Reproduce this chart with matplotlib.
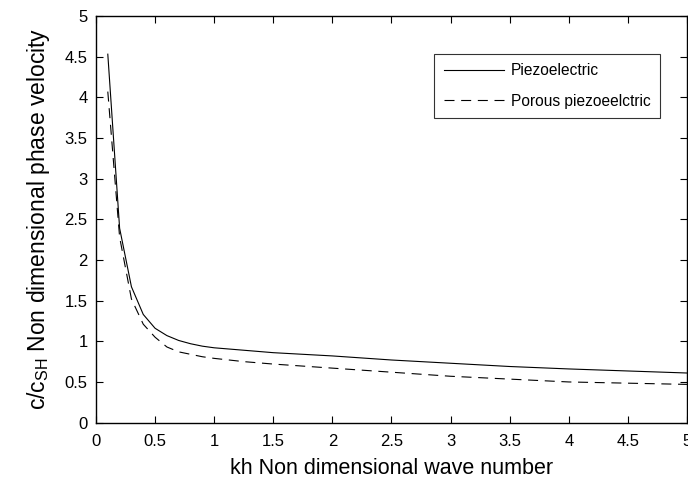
import matplotlib

matplotlib.use("Agg")
import matplotlib.pyplot as plt

plt.rcParams["font.family"] = ["Liberation Sans", "DejaVu Sans"]
plt.rcParams["mathtext.fontset"] = "custom"
plt.rcParams["mathtext.rm"] = "Liberation Sans"
plt.rcParams["mathtext.it"] = "Liberation Sans"

# kh values and the two phase-velocity curves
kh = [0.1, 0.2, 0.3, 0.4, 0.5, 0.6, 0.7, 0.8, 0.9, 1.0,
      1.25, 1.5, 2.0, 2.5, 3.0, 3.5, 4.0, 4.5, 5.0]
piezo = [4.53, 2.39, 1.67, 1.33, 1.16, 1.07, 1.01, 0.97, 0.94, 0.92,
         0.89, 0.86, 0.82, 0.77, 0.73, 0.69, 0.66, 0.635, 0.61]
porous = [4.07, 2.28, 1.52, 1.21, 1.05, 0.93, 0.87, 0.84, 0.81, 0.79,
          0.75, 0.72, 0.67, 0.62, 0.57, 0.535, 0.50, 0.485, 0.47]

xticks = [0, 0.5, 1, 1.5, 2, 2.5, 3, 3.5, 4, 4.5, 5]
xticklabels = ["0", "0.5", "1", "1.5", "2", "2.5", "3", "3.5", "4", "4.5", "5"]
yticks = xticks
yticklabels = xticklabels

fig = plt.figure(figsize=(6.88, 4.83), dpi=100)
ax = fig.add_axes([0.1395, 0.125, 0.859, 0.842])

ax.plot(kh, piezo, color="black", linewidth=0.8, label="Piezoelectric")
ax.plot(kh, porous, color="black", linewidth=0.8, linestyle=(0, (9, 6)),
        label="Porous piezoeelctric")

ax.set_xlim(0, 5)
ax.set_ylim(0, 5)
ax.set_xticks(xticks)
ax.set_xticklabels(xticklabels)
ax.set_yticks(yticks)
ax.set_yticklabels(yticklabels)
ax.tick_params(axis="both", direction="in", top=True, right=True, length=5,
               width=0.8, labelsize=12)
ax.tick_params(axis="x", pad=8)
ax.tick_params(axis="y", pad=6)
for s in ax.spines.values():
    s.set_linewidth(1.0)

ax.set_xlabel("kh Non dimensional wave number", fontsize=15.5, labelpad=7)
ax.set_ylabel("c/c$_{\\mathrm{SH}}$ Non dimensional phase velocity",
              fontsize=16.5, labelpad=9)

leg = ax.legend(loc="upper right", bbox_to_anchor=(0.954, 0.907),
                borderaxespad=0, fontsize=11.2, frameon=True, fancybox=False,
                edgecolor="black", handlelength=3.9, handletextpad=0.4,
                borderpad=0.6, labelspacing=1.0)
leg.get_frame().set_linewidth(0.8)

fig.savefig("out.png", dpi=100)
